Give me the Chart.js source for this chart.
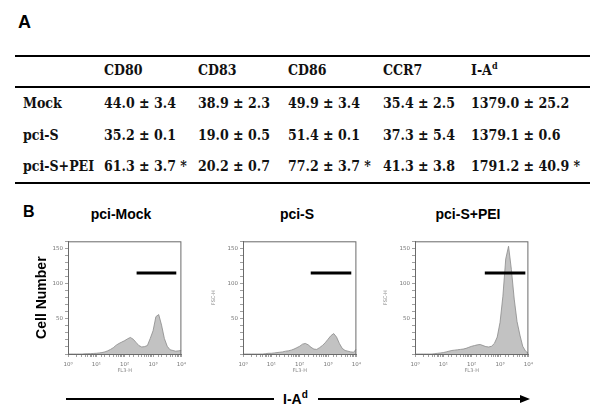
<!DOCTYPE html>
<html lang="en">
<head>
<meta charset="UTF-8">
<title>DC maturation markers and I-Ad histograms</title>
<script src="https://cdn.jsdelivr.net/npm/chart.js@4.4.1/dist/chart.umd.min.js"></script>
<style>
  body { margin: 0; background: #fff; }
  #fig { position: relative; width: 600px; height: 419px; overflow: hidden; font-family: "Liberation Sans", Arial, sans-serif; }
  .abs { position: absolute; white-space: nowrap; }
  .letter { font-weight: bold; font-size: 18px; line-height: 20px; }
  .rule { position: absolute; left: 15px; width: 575px; height: 2px; background: #000; }
  .cell { position: absolute; white-space: nowrap; font-family: "DejaVu Serif Condensed", "DejaVu Serif", serif; font-stretch: condensed;
          font-weight: bold; font-size: 14px; line-height: 16px; color: #111; }
  .cell sup { font-size: 9px; line-height: 0; }
  .ptitle { position: absolute; font-weight: bold; font-size: 14px; line-height: 16px; transform: translateX(-50%); white-space: nowrap; }
  canvas.hist { position: absolute; top: 236px; }
  .hline { position: absolute; height: 2px; background: #000; top: 398px; }
  .axlabel { position: absolute; top: 391px; left: 283px; font-weight: bold; font-size: 14px; line-height: 16px; }
  .axlabel sup { font-size: 10px; line-height: 0; }
  .head { position: absolute; left: 520px; top: 395px; width: 0; height: 0;
          border-left: 10px solid #000; border-top: 4px solid transparent; border-bottom: 4px solid transparent; }
</style>
</head>
<body>
<div id="fig">
  <div class="abs letter" style="left:18px; top:12px;">A</div>
  <div class="rule" style="top:55px;"></div>
  <div class="rule" style="top:86px;"></div>
  <div class="rule" style="top:182px;"></div>
  <div id="table"></div>

  <div class="abs letter" style="left:23px; top:202px; font-size:16px;">B</div>
  <div id="titles"></div>
  <canvas class="hist" id="h0" width="156" height="146" style="left:34px;"></canvas>
  <canvas class="hist" id="h1" width="156" height="146" style="left:209px;"></canvas>
  <canvas class="hist" id="h2" width="156" height="146" style="left:381px;"></canvas>

  <div class="hline" style="left:66px; width:208px;"></div>
  <div class="axlabel">I-A<sup>d</sup></div>
  <div class="hline" style="left:318px; width:204px;"></div>
  <div class="head"></div>
</div>

<script>
// ---- table A ----
const groups = ['Mock', 'pci-S', 'pci-S+PEI'];
const markers = ['CD80', 'CD83', 'CD86', 'CCR7', 'I-A<sup>d</sup>'];
const mockMean = [44.0, 38.9, 49.9, 35.4, 1379.0];
const mockSd   = [3.4, 2.3, 3.4, 2.5, 25.2];
const pciSMean = [35.2, 19.0, 51.4, 37.3, 1379.1];
const pciSSd   = [0.1, 0.5, 0.1, 5.4, 0.6];
const peiMean  = [61.3, 20.2, 77.2, 41.3, 1791.2];
const peiSd    = [3.7, 0.7, 3.7, 3.8, 40.9];
const peiSig   = [true, false, true, false, true];

// ---- histograms B ----
const panelTitles = ['pci-Mock', 'pci-S', 'pci-S+PEI'];
const fl3Channel = [1, 1.26, 1.58, 2, 2.51, 3.16, 3.98, 5.01, 6.31, 7.94,
  10, 12.6, 15.8, 20, 25.1, 31.6, 39.8, 50.1, 63.1, 79.4,
  100, 126, 158, 200, 251, 316, 398, 501, 631, 794,
  1000, 1259, 1585, 1995, 2512, 3162, 3981, 5012, 6310, 7943, 10000];
const mockCounts = [0, 0, 0, 0, 0, 0, 0.3, 0.5, 0.5, 0.8,
  1, 1.5, 2, 3, 4.5, 6.5, 9, 12.5, 15, 17,
  19, 21.5, 23.5, 21, 16.5, 12, 10, 10.5, 12, 22,
  33, 53, 56, 41, 22, 11, 6, 5, 4, 4.5, 5];
const pciSCounts = [0, 0, 0, 0, 0, 0, 0, 0, 0.5, 1,
  1, 1.5, 2, 2.5, 3, 4, 4.5, 5.5, 7, 9,
  11, 14, 15, 13, 9.5, 7, 6.5, 9, 12, 16,
  21, 26, 29, 24, 15, 8, 5, 4, 3, 2.5, 7];
const peiCounts = [0, 0, 0, 0, 0, 0, 0, 0.5, 1, 1.5,
  2, 3, 4, 5, 5.5, 6, 6.5, 7, 8, 9.5,
  11, 12, 13, 13.5, 12, 10.5, 10, 11, 15, 24,
  45, 82, 135, 153, 120, 78, 46, 27, 11, 4, 1];
const gateStart = [263, 245, 290];
const gateEnd = [6600, 6600, 7800];
const gateLevel = 115;
const yLabelled = [50, 100, 150];
const xDecades = [1, 10, 100, 1000, 10000];

// build the table
const colX = [104, 198, 288, 383, 471];
const rowY = [95, 127, 158];
const tbl = document.getElementById('table');
function cell(html, x, y) {
  const d = document.createElement('div');
  d.className = 'cell';
  d.style.left = x + 'px';
  d.style.top = y + 'px';
  d.innerHTML = html;
  tbl.appendChild(d);
}
markers.forEach((m, j) => cell(m, colX[j], 62));
const means = [mockMean, pciSMean, peiMean];
const sds = [mockSd, pciSSd, peiSd];
groups.forEach((g, i) => {
  cell(g, 23, rowY[i]);
  means[i].forEach((m, j) => {
    let t = m.toFixed(1) + ' ± ' + sds[i][j].toFixed(1);
    if (i === 2 && peiSig[j]) t += ' *';
    cell(t, colX[j], rowY[i]);
  });
});

// panel titles
const titleX = [121, 297, 468];
const tt = document.getElementById('titles');
panelTitles.forEach((t, i) => {
  const d = document.createElement('div');
  d.className = 'ptitle';
  d.style.left = titleX[i] + 'px';
  d.style.top = '206px';
  d.textContent = t;
  tt.appendChild(d);
});

const supDigits = ['\u2070', '\u00b9', '\u00b2', '\u00b3', '\u2074'];

const frame = {
  id: 'frame',
  afterDraw(chart) {
    const a = chart.chartArea, ctx = chart.ctx;
    ctx.save();
    ctx.strokeStyle = '#6a6a6a';
    ctx.lineWidth = 1;
    ctx.strokeRect(a.left + 0.5, a.top + 0.5, a.right - a.left - 1, a.bottom - a.top);
    ctx.restore();
  }
};

function histChart(id, counts, i, yTitle) {
  const first = i === 0;
  new Chart(document.getElementById(id), {
    type: 'line',
    data: {
      datasets: [
        {
          data: [{ x: gateStart[i], y: gateLevel }, { x: gateEnd[i], y: gateLevel }],
          borderColor: '#000', borderWidth: 3, pointRadius: 0, fill: false, order: 0
        },
        {
          data: fl3Channel.map((x, k) => ({ x: x, y: counts[k] })),
          borderColor: '#8a8a8a', borderWidth: 0.8, backgroundColor: '#c2c2c2',
          fill: 'origin', pointRadius: 0, tension: 0, order: 1
        }
      ]
    },
    options: {
      responsive: false,
      animation: false,
      layout: { padding: { top: 5, right: 8, left: 0, bottom: 0 } },
      plugins: { legend: { display: false }, tooltip: { enabled: false } },
      scales: {
        x: {
          type: 'logarithmic', min: 1, max: 10000,
          afterFit(s) { s.height = 28; },
          border: { color: '#6a6a6a' },
          grid: { drawOnChartArea: false, tickLength: 3, color: '#777', lineWidth: 0.7 },
          ticks: {
            autoSkip: false, maxRotation: 0, padding: 4, color: '#777',
            font: { family: 'DejaVu Sans', size: 5.5 },
            callback(v) {
              const k = xDecades.indexOf(v);
              return k >= 0 ? '10' + supDigits[k] : '';
            }
          },
          title: { display: true, text: 'FL3-H', color: '#888', font: { family: 'DejaVu Sans', size: 5 }, padding: { top: 0, bottom: 8 } }
        },
        y: {
          min: 0, max: 160,
          afterFit(s) { s.width = 34; },
          border: { color: '#6a6a6a' },
          grid: { drawOnChartArea: false, tickLength: 3, color: '#777', lineWidth: 0.7 },
          ticks: {
            stepSize: 10, autoSkip: false, padding: 2, color: '#777',
            font: { family: 'DejaVu Sans', size: 5.5 },
            callback(v) { return yLabelled.includes(v) ? String(v) : ''; }
          },
          title: first
            ? { display: true, text: yTitle, color: '#000', font: { family: 'Liberation Sans', size: 14, weight: 'bold' }, padding: { top: 0, bottom: 0 } }
            : { display: true, text: yTitle, color: '#888', font: { family: 'DejaVu Sans', size: 5 }, padding: { top: 2, bottom: 0 } }
        }
      }
    },
    plugins: [frame]
  });
}

histChart('h0', mockCounts, 0, 'Cell Number');
histChart('h1', pciSCounts, 1, 'FSC-H');
histChart('h2', peiCounts, 2, 'FSC-H');
</script>
</body>
</html>
